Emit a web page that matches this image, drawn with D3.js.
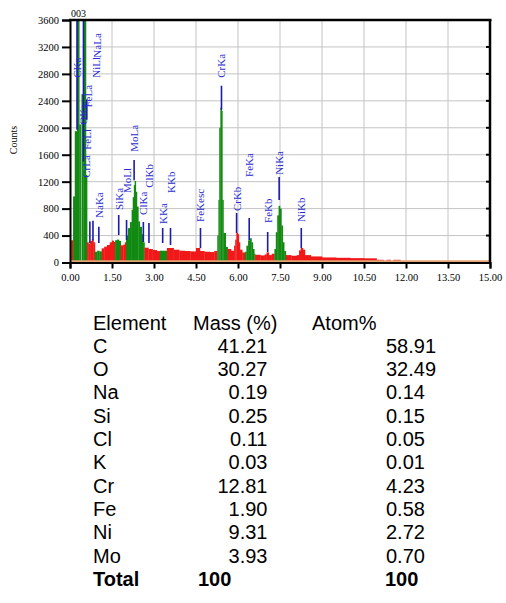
<!DOCTYPE html>
<html>
<head>
<meta charset="utf-8">
<script src="https://cdn.jsdelivr.net/npm/d3@7"></script>
<style>
  body { margin: 0; background: #fff; }
  .spec text { font-family: "Liberation Serif", "Times New Roman", serif; }
  .tbl text { font-family: "Liberation Sans", Arial, sans-serif; font-size: 20px; fill: #000; }
</style>
</head>
<body>
<script>
// spectrum channels (keV where a step starts, counts of that step)
var specEnergy = [0.00, 0.04, 0.11, 0.17, 0.25, 0.33, 0.38, 0.41, 0.48, 0.57,
    0.61, 0.66, 0.72, 0.78, 0.84, 0.89, 0.97, 1.05, 1.13, 1.22,
    1.32, 1.42, 1.50, 1.56, 1.61, 1.67, 1.75, 1.81, 1.90, 1.96,
    2.00, 2.07, 2.14, 2.20, 2.24, 2.28, 2.31, 2.35, 2.39, 2.44,
    2.49, 2.56, 2.61, 2.66, 2.80, 2.95, 3.10, 3.21, 3.46, 3.70,
    3.90, 4.10, 4.30, 4.50, 4.64, 4.80, 5.00, 5.15, 5.26, 5.30,
    5.33, 5.37, 5.42, 5.44, 5.48, 5.56, 5.63, 5.75, 5.86, 5.90,
    5.94, 5.99, 6.03, 6.07, 6.15, 6.25, 6.30, 6.36, 6.42, 6.48,
    6.53, 6.58, 6.61, 6.80, 6.95, 7.02, 7.10, 7.20, 7.30, 7.35,
    7.40, 7.45, 7.50, 7.55, 7.60, 7.65, 7.71, 7.90, 8.10, 8.18,
    8.24, 8.32, 8.39, 8.60, 9.00, 9.50, 10.00, 10.50, 10.95, 11.20,
    11.30, 11.45, 11.55, 11.80];
var specCounts = [0, 330, 980, 1950, 3800, 2050, 0, 2500, 3800, 1300,
    300, 280, 320, 345, 300, 160, 175, 165, 210, 235,
    260, 300, 325, 305, 330, 340, 320, 255, 265, 300,
    400, 510, 600, 780, 970, 1150, 1210, 1050, 830, 610,
    530, 420, 300, 220, 200, 185, 170, 175, 215, 190,
    175, 170, 165, 215, 170, 160, 155, 170, 400, 930,
    2000, 2300, 2250, 930, 440, 230, 200, 175, 250, 340,
    440, 420, 300, 190, 150, 160, 250, 330, 360, 300,
    200, 130, 115, 105, 120, 150, 110, 130, 200, 450,
    700, 840, 800, 550, 300, 170, 110, 100, 110, 180,
    215, 190, 110, 90, 75, 70, 65, 62, 40, 0,
    40, 0, 40, 0];

// identified peak windows, drawn green
var peakFrom = [0.11, 0.89, 1.61, 2.00, 3.21, 5.26, 6.25, 7.30];
var peakTo   = [0.61, 1.13, 1.81, 2.66, 3.46, 5.63, 6.61, 7.71];

// line markers: name, keV, top and bottom of the tick (counts), label foot (counts)
var markerNames  = ["CKa", "OKa", "CrLa", "FeLl", "FeLa", "NiLl", "NaLa", "", "", "NaKa",
    "SiKa", "MoLl", "MoLa", "ClKa", "ClKb", "KKa", "KKb", "FeKesc", "CrKa", "CrKb",
    "FeKa", "FeKb", "NiKa", "NiKb"];
var markerEnergy = [0.25, 0.48, 0.56, 0.60, 0.63, 0.92, 0.97, 0.71, 0.82, 1.03,
    1.74, 2.02, 2.29, 2.62, 2.82, 3.31, 3.59, 4.66, 5.41, 5.95,
    6.40, 7.06, 7.47, 8.26];
var markerTop    = [3600, 3600, 0, 2420, 0, 0, 0, 610, 620, 530,
    706, 632, 1520, 602, 587, 513, 513, 513, 2625, 736,
    662, 454, 1271, 513];
var markerBottom = [1970, 1500, 0, 2120, 0, 0, 0, 290, 330, 290,
    409, 335, 1220, 305, 290, 290, 260, 216, 2268, 439,
    335, 156, 929, 216];
var markerLabelAt = [2743, 2045, 1257, 1673, 2300, 2743, 3041, 0, 0, 662,
    780, 1033, 1643, 706, 1108, 572, 1033, 602, 2743, 763,
    1271, 587, 1301, 602];

var yTicks = d3.range(0, 3601, 400);
var xTicks = d3.range(0, 15.01, 1.5);

// composition table
var elements = ["C", "O", "Na", "Si", "Cl", "K", "Cr", "Fe", "Ni", "Mo"];
var massPct  = ["41.21", "30.27", "0.19", "0.25", "0.11", "0.03", "12.81", "1.90", "9.31", "3.93"];
var atomPct  = ["58.91", "32.49", "0.14", "0.15", "0.05", "0.01", "4.23", "0.58", "2.72", "0.70"];
var totalRow = ["Total", "100", "100"];

var svgWidth = 506;
var svgHeight = 603;

var plot = { left: 70, right: 490, top: 20, bottom: 262.5 };

var svg = d3.select("body")
    .append("svg")
    .attr("width", svgWidth)
    .attr("height", svgHeight);

var x = d3.scaleLinear().domain([0, 15]).range([plot.left, plot.right]);
var y = d3.scaleLinear().domain([0, 3600]).range([plot.bottom, plot.top]);

var chart = svg.append("g").attr("class", "spec");

svg.append("clipPath").attr("id", "plotClip")
    .append("rect")
    .attr("x", plot.left).attr("y", plot.top)
    .attr("width", plot.right - plot.left).attr("height", plot.bottom - plot.top);

// grid
chart.append("g")
    .selectAll("line")
    .data(yTicks.slice(1))
    .enter()
    .append("line")
    .attr("x1", plot.left).attr("x2", plot.right)
    .attr("y1", d => y(d)).attr("y2", d => y(d))
    .attr("stroke", "#c4c4c4").attr("stroke-width", 1);

chart.append("g")
    .selectAll("line")
    .data(xTicks.slice(1, -1))
    .enter()
    .append("line")
    .attr("x1", d => x(d)).attr("x2", d => x(d))
    .attr("y1", plot.top).attr("y2", plot.bottom)
    .attr("stroke", "#c4c4c4").attr("stroke-width", 1);

// spectrum as stepped bars
function inPeak(e) {
    for (var i = 0; i < peakFrom.length; i++) {
        if (e >= peakFrom[i] - 1e-9 && e < peakTo[i] - 1e-9) return true;
    }
    return false;
}

var channels = specEnergy.slice(0, -1).map(function(e, i) {
    return { e0: e, e1: specEnergy[i + 1], c: specCounts[i] };
});

chart.append("g")
    .attr("clip-path", "url(#plotClip)")
    .selectAll("rect")
    .data(channels.filter(d => d.c > 0))
    .enter()
    .append("rect")
    .attr("x", d => x(d.e0))
    .attr("width", d => x(d.e1) - x(d.e0) + 0.3)
    .attr("y", d => y(d.c))
    .attr("height", d => y(0) - y(d.c))
    .attr("fill", d => inPeak(d.e0) ? "#128a12" : "#f01818");

// baseline fit
chart.append("line")
    .attr("x1", x(0)).attr("x2", x(15))
    .attr("y1", y(18)).attr("y2", y(18))
    .attr("stroke", "#e5a474").attr("stroke-width", 2);

// markers
var markers = markerNames.map(function(n, i) {
    return { name: n, e: markerEnergy[i], top: markerTop[i], bottom: markerBottom[i], at: markerLabelAt[i] };
});

chart.append("g")
    .attr("clip-path", "url(#plotClip)")
    .selectAll("line")
    .data(markers.filter(d => d.top > 0))
    .enter()
    .append("line")
    .attr("x1", d => x(d.e)).attr("x2", d => x(d.e))
    .attr("y1", d => y(d.top)).attr("y2", d => y(d.bottom))
    .attr("stroke", "#1c1ca8").attr("stroke-width", 1.6);

chart.append("g")
    .selectAll("text")
    .data(markers.filter(d => d.name !== ""))
    .enter()
    .append("text")
    .attr("transform", d => `translate(${x(d.e) + 4}, ${y(d.at)}) rotate(-90)`)
    .attr("font-size", "11px")
    .attr("fill", "#2a2ad0")
    .text(d => d.name);

// axes and frame
var leftAxis = d3.axisLeft(y).tickValues(yTicks).tickFormat(d3.format("d")).tickSize(8).tickPadding(3);
var yAxis = chart.append("g")
    .attr("transform", `translate(${plot.left}, 0)`)
    .call(leftAxis);
yAxis.select(".domain").attr("stroke-width", 2);
yAxis.selectAll(".tick line").attr("stroke-width", 2);
yAxis.selectAll("text")
    .attr("font-family", "Liberation Serif, serif")
    .attr("font-size", "10.5px")
    .attr("fill", "#000");

var bottomAxis = d3.axisBottom(x).tickValues(xTicks).tickFormat(d3.format(".2f")).tickSize(6).tickPadding(5);
var xAxis = chart.append("g")
    .attr("transform", `translate(0, ${plot.bottom})`)
    .call(bottomAxis);
xAxis.select(".domain").attr("stroke-width", 2);
xAxis.selectAll(".tick line").attr("stroke-width", 2);
xAxis.selectAll("text")
    .attr("font-family", "Liberation Serif, serif")
    .attr("font-size", "10.5px")
    .attr("fill", "#000");

chart.append("line")
    .attr("x1", plot.left - 1).attr("x2", plot.right + 1.5)
    .attr("y1", plot.top).attr("y2", plot.top)
    .attr("stroke", "#000").attr("stroke-width", 2.5);
chart.append("line")
    .attr("x1", plot.right).attr("x2", plot.right)
    .attr("y1", plot.top).attr("y2", plot.bottom)
    .attr("stroke", "#000").attr("stroke-width", 2.5);
chart.append("g")
    .selectAll("line")
    .data(yTicks.slice(1, -1))
    .enter()
    .append("line")
    .attr("x1", plot.right - 4).attr("x2", plot.right)
    .attr("y1", d => y(d)).attr("y2", d => y(d))
    .attr("stroke", "#000").attr("stroke-width", 2);

chart.append("text")
    .attr("x", plot.left + 1)
    .attr("y", 17)
    .attr("font-size", "10px")
    .text("003");

chart.append("text")
    .attr("transform", `translate(17, 140) rotate(-90)`)
    .attr("text-anchor", "middle")
    .attr("font-size", "10px")
    .text("Counts");

// table
var tbl = svg.append("g").attr("class", "tbl");
var rowY = d3.scaleLinear().domain([0, 1]).range([329.5, 352.8]);

tbl.append("text").attr("x", 93).attr("y", rowY(0)).text("Element");
tbl.append("text").attr("x", 193).attr("y", rowY(0)).text("Mass (%)");
tbl.append("text").attr("x", 312).attr("y", rowY(0)).text("Atom%");

var rows = tbl.selectAll("g.row")
    .data(elements)
    .enter()
    .append("g")
    .attr("class", "row")
    .attr("transform", (d, i) => `translate(0, ${rowY(i + 1)})`);

rows.append("text").attr("x", 93).text(d => d);
rows.append("text").attr("x", 267.5).attr("text-anchor", "end").text((d, i) => massPct[i]);
rows.append("text").attr("x", 386).text((d, i) => atomPct[i]);

var tot = tbl.append("g")
    .attr("transform", `translate(0, ${rowY(elements.length + 1)})`)
    .attr("font-weight", "bold");
tot.append("text").attr("x", 93).attr("font-weight", "bold").text(totalRow[0]);
tot.append("text").attr("x", 198).attr("font-weight", "bold").text(totalRow[1]);
tot.append("text").attr("x", 385).attr("font-weight", "bold").text(totalRow[2]);
</script>
</body>
</html>
